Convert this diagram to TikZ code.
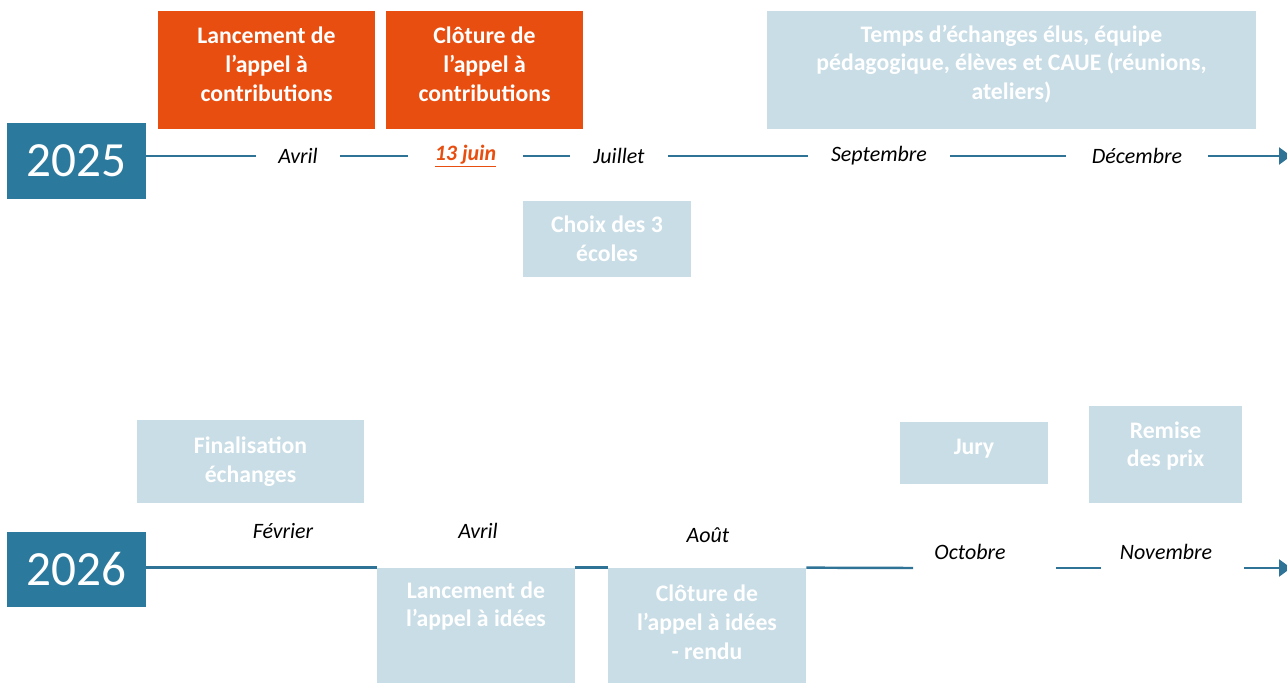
\documentclass[tikz,border=0pt]{standalone}
\usepackage{fontspec}
\setmainfont{Carlito}
\usetikzlibrary{arrows.meta}
\definecolor{yearblue}{HTML}{2B7A9E}
\definecolor{lineblue}{HTML}{2F7396}
\definecolor{callorange}{HTML}{E84E0F}
\definecolor{paleblue}{HTML}{C9DDE6}
\begin{document}
\begin{tikzpicture}[x=0.02cm, y=-0.02cm,
    yearbox/.style={fill=yearblue, text=white, minimum width=2.78cm, minimum height=1.52cm, font=\fontsize{28}{32}\selectfont},
    orangebox/.style={fill=callorange, minimum height=2.36cm},
    palebox/.style={fill=paleblue},
    boxtext/.style={text=white, align=center, font=\bfseries\fontsize{13.5}{16.4}\selectfont},
    month/.style={font=\itshape\fontsize{12.5}{15}\selectfont},
    tl/.style={draw=lineblue, line width=1.4pt},
    tip/.style={-{Triangle[length=0.24cm, width=0.34cm]}}]
    \tikzstyle{every node}+=[inner sep=0pt]
    \useasboundingbox (0,0) rectangle (1287,683);
    % 2025
    \node [yearbox] (y25) at (76.5,161) {2025};
    \node [orangebox, minimum width=4.34cm] (lanc25) at (266.5,70) {};
    \node [boxtext] (lanc25t) at (266.5,64) {Lancement de\\l’appel à\\contributions};
    \node [orangebox, minimum width=3.94cm] (clot25) at (484.5,70) {};
    \node [boxtext] (clot25t) at (484.5,64) {Clôture de\\l’appel à\\contributions};
    \node [palebox, minimum width=9.78cm, minimum height=2.36cm] (temps) at (1011.5,70) {};
    \node [boxtext] (tempst) at (1011.5,64) {Temps d’échanges élus, équipe\\pédagogique, élèves et CAUE (réunions,\\ateliers)};
    \node [palebox, boxtext, minimum width=3.36cm, minimum height=1.52cm] (choix) at (607,239) {Choix des 3\\écoles};
    \node [month, minimum width=1.68cm] (avril25) at (298,156) {Avril};
    \node [month, minimum width=2.3cm, text=callorange, font=\bfseries\itshape\fontsize{12.5}{15}\selectfont] (juin25) at (465.5,156) {\underline{13 juin}};
    \node [month, minimum width=1.96cm] (juil25) at (619,156) {Juillet};
    \node [month, minimum width=2.84cm] (sept25) at (879,156) {Septembre};
    \node [month, minimum width=2.84cm] (dec25) at (1137,156) {Décembre};
    \coordinate (end25) at (1291,156);
    \draw [tl] (y25.east |- avril25) -- (avril25.west);
    \draw [tl] (avril25.east) -- (juin25.west);
    \draw [tl] (juin25.east) -- (juil25.west);
    \draw [tl] (juil25.east) -- (sept25.west);
    \draw [tl] (sept25.east) -- (dec25.west);
    \draw [tl, tip] (dec25.east) -- (end25);
    % 2026
    \node [yearbox, minimum height=1.5cm] (y26) at (76.5,569.5) {2026};
    \node [palebox, boxtext, minimum width=4.54cm, minimum height=1.66cm] (final) at (250.5,461.5) {Finalisation\\échanges};
    \node [palebox, boxtext, minimum width=2.96cm, minimum height=1.24cm, text depth=7.3pt] (jury) at (974,453) {Jury};
    \node [palebox, minimum width=3.06cm, minimum height=1.94cm] (remise) at (1165.5,454.5) {};
    \node [boxtext] (remiset) at (1165.5,446) {Remise\\des prix};
    \node [palebox, minimum width=3.96cm, minimum height=2.3cm] (lanc26) at (476,625.5) {};
    \node [boxtext] (lanc26t) at (476,606) {Lancement de\\l’appel à idées};
    \node [palebox, minimum width=3.96cm, minimum height=2.3cm] (clot26) at (707,625.5) {};
    \node [boxtext] (clot26t) at (707,622) {Clôture de\\l’appel à idées\\- rendu};
    \node [month] (fev26) at (283,531) {Février};
    \node [month] (avril26) at (478,531) {Avril};
    \node [month] (aout26) at (708,535) {Août};
    \node [month] (oct26) at (970,552) {Octobre};
    \node [month] (nov26) at (1166,552) {Novembre};
    \coordinate (oct1) at (913,568);
    \coordinate (oct2) at (1056,568);
    \coordinate (nov1) at (1101,568);
    \coordinate (nov2) at (1244,568);
    \coordinate (end26) at (1291,568);
    \draw [tl] (y26.east |- lanc26.north) -- (lanc26.north west);
    \draw [tl] (lanc26.north east) -- (clot26.north west);
    \draw [tl] (clot26.north east) -- (oct1);
    \draw [tl] (oct2) -- (nov1);
    \draw [tl, tip] (nov2) -- (end26);
\end{tikzpicture}
\end{document}
